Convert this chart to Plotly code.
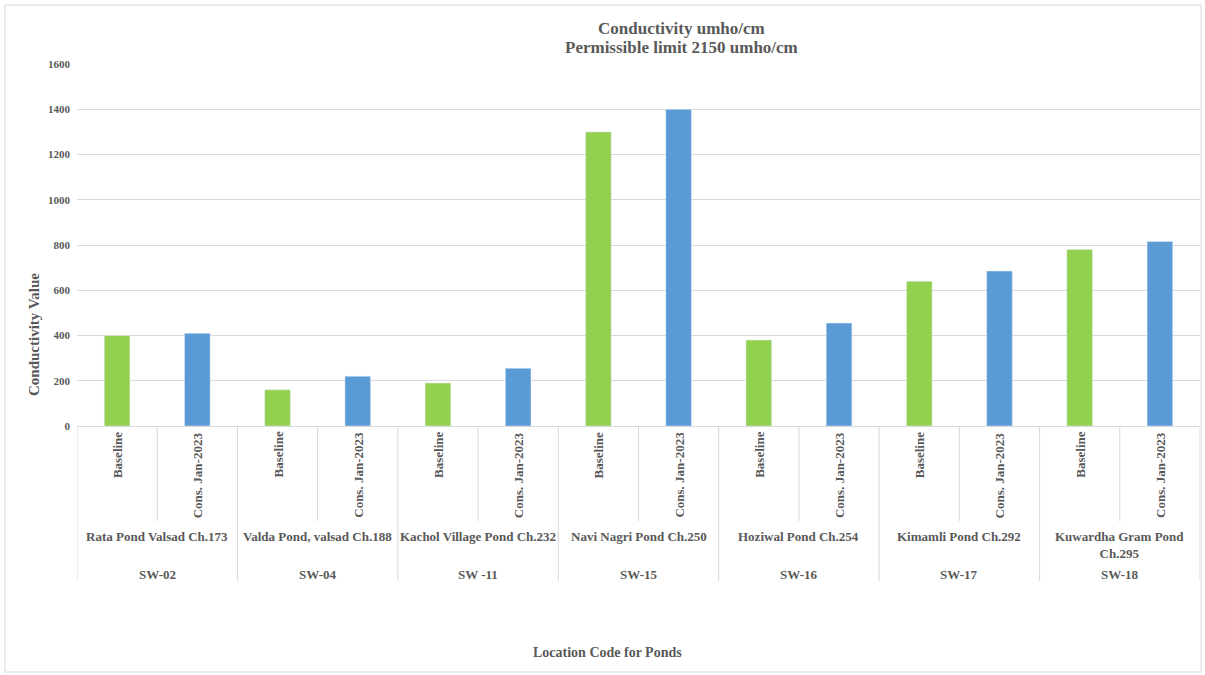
import plotly.graph_objects as go

codes = ["SW-02", "SW-04", "SW -11", "SW-15", "SW-16", "SW-17", "SW-18"]
ponds = ["Rata Pond Valsad Ch.173", "Valda Pond, valsad Ch.188", "Kachol Village Pond Ch.232",
         "Navi Nagri Pond Ch.250", "Hoziwal Pond Ch.254", "Kimamli Pond Ch.292",
         "Kuwardha Gram Pond<br>Ch.295"]
periods = ["Baseline", "Cons. Jan-2023"]
baseline = [400, 160, 190, 1300, 380, 640, 780]
cons = [410, 220, 255, 1400, 455, 685, 815]
y_ticks = [0, 200, 400, 600, 800, 1000, 1200, 1400, 1600]

W, H = 1205, 675
L, R, T, B = 77, 1200, 64, 426
FONT = "Liberation Serif"
TXT = "#595959"
GRID = "#d9d9d9"


def px_x(p):
    return (p - L) / (R - L)


def px_y(p):
    return (B - p) / (B - T)


def bold(s):
    return "<b>" + s.replace("<br>", "</b><br><b>") + "</b>"


n = len(codes)
xb = [2 * i for i in range(n)]
xc = [2 * i + 1 for i in range(n)]

fig = go.Figure()
fig.add_trace(go.Bar(x=xb, y=baseline, name=periods[0], marker_color="#92D050",
                     width=0.32, showlegend=False))
fig.add_trace(go.Bar(x=xc, y=cons, name=periods[1], marker_color="#5B9BD5",
                     width=0.32, showlegend=False))

ann = []
shapes = []
lab_font = dict(family=FONT, size=13, color=TXT)
for i in range(n):
    for j, per in enumerate(periods):
        ann.append(dict(x=2 * i + j, xref="x", y=px_y(430), yref="paper", text=bold(per),
                        textangle=-90, xanchor="center", yanchor="top", showarrow=False,
                        font=lab_font))
    ann.append(dict(x=2 * i + 0.5, xref="x", y=px_y(527), yref="paper", text=bold(ponds[i]),
                    xanchor="center", yanchor="top", showarrow=False, font=lab_font))
    ann.append(dict(x=2 * i + 0.5, xref="x", y=px_y(574), yref="paper", text=bold(codes[i]),
                    xanchor="center", yanchor="middle", showarrow=False, font=lab_font))

for k in range(2 * n + 1):
    xpos = k - 0.5
    bottom = 581 if k % 2 == 0 else 521
    shapes.append(dict(type="line", xref="x", yref="paper", x0=xpos, x1=xpos,
                       y0=0, y1=px_y(bottom), line=dict(color=GRID, width=1)))

ann.append(dict(x=px_x(681), xref="paper", y=px_y(28.5), yref="paper",
                text=bold("Conductivity umho/cm"),
                xanchor="center", yanchor="middle", showarrow=False,
                font=dict(family=FONT, size=17, color=TXT)))
ann.append(dict(x=px_x(681), xref="paper", y=px_y(48), yref="paper",
                text=bold("Permissible limit 2150 umho/cm"),
                xanchor="center", yanchor="middle", showarrow=False,
                font=dict(family=FONT, size=17, color=TXT)))
ann.append(dict(x=px_x(607), xref="paper", y=px_y(652), yref="paper",
                text=bold("Location Code for Ponds"), xanchor="center", yanchor="middle",
                showarrow=False, font=dict(family=FONT, size=14, color=TXT)))
ann.append(dict(x=px_x(34), xref="paper", y=px_y(335), yref="paper",
                text=bold("Conductivity Value"), textangle=-90, xanchor="center",
                yanchor="middle", showarrow=False, font=dict(family=FONT, size=15, color=TXT)))

shapes.append(dict(type="rect", xref="paper", yref="paper", x0=px_x(5), x1=px_x(1201),
                   y0=px_y(672), y1=px_y(5), line=dict(color=GRID, width=1)))

fig.update_layout(
    width=W, height=H,
    margin=dict(l=L, r=W - R, t=T, b=H - B),
    paper_bgcolor="white", plot_bgcolor="white",
    barmode="overlay",
    annotations=ann, shapes=shapes,
    xaxis=dict(range=[-0.5, 2 * n - 0.5], showticklabels=False, showgrid=False,
               zeroline=False, showline=True, linecolor=GRID, linewidth=1, ticks=""),
    yaxis=dict(range=[0, 1600], tickvals=y_ticks, ticktext=[bold(str(v)) for v in y_ticks],
               showgrid=True, gridcolor=GRID, gridwidth=1, zeroline=False, showline=False,
               ticks="", ticklabelstandoff=6, tickfont=dict(family=FONT, size=11, color=TXT)),
)

fig.write_html("out.html")
